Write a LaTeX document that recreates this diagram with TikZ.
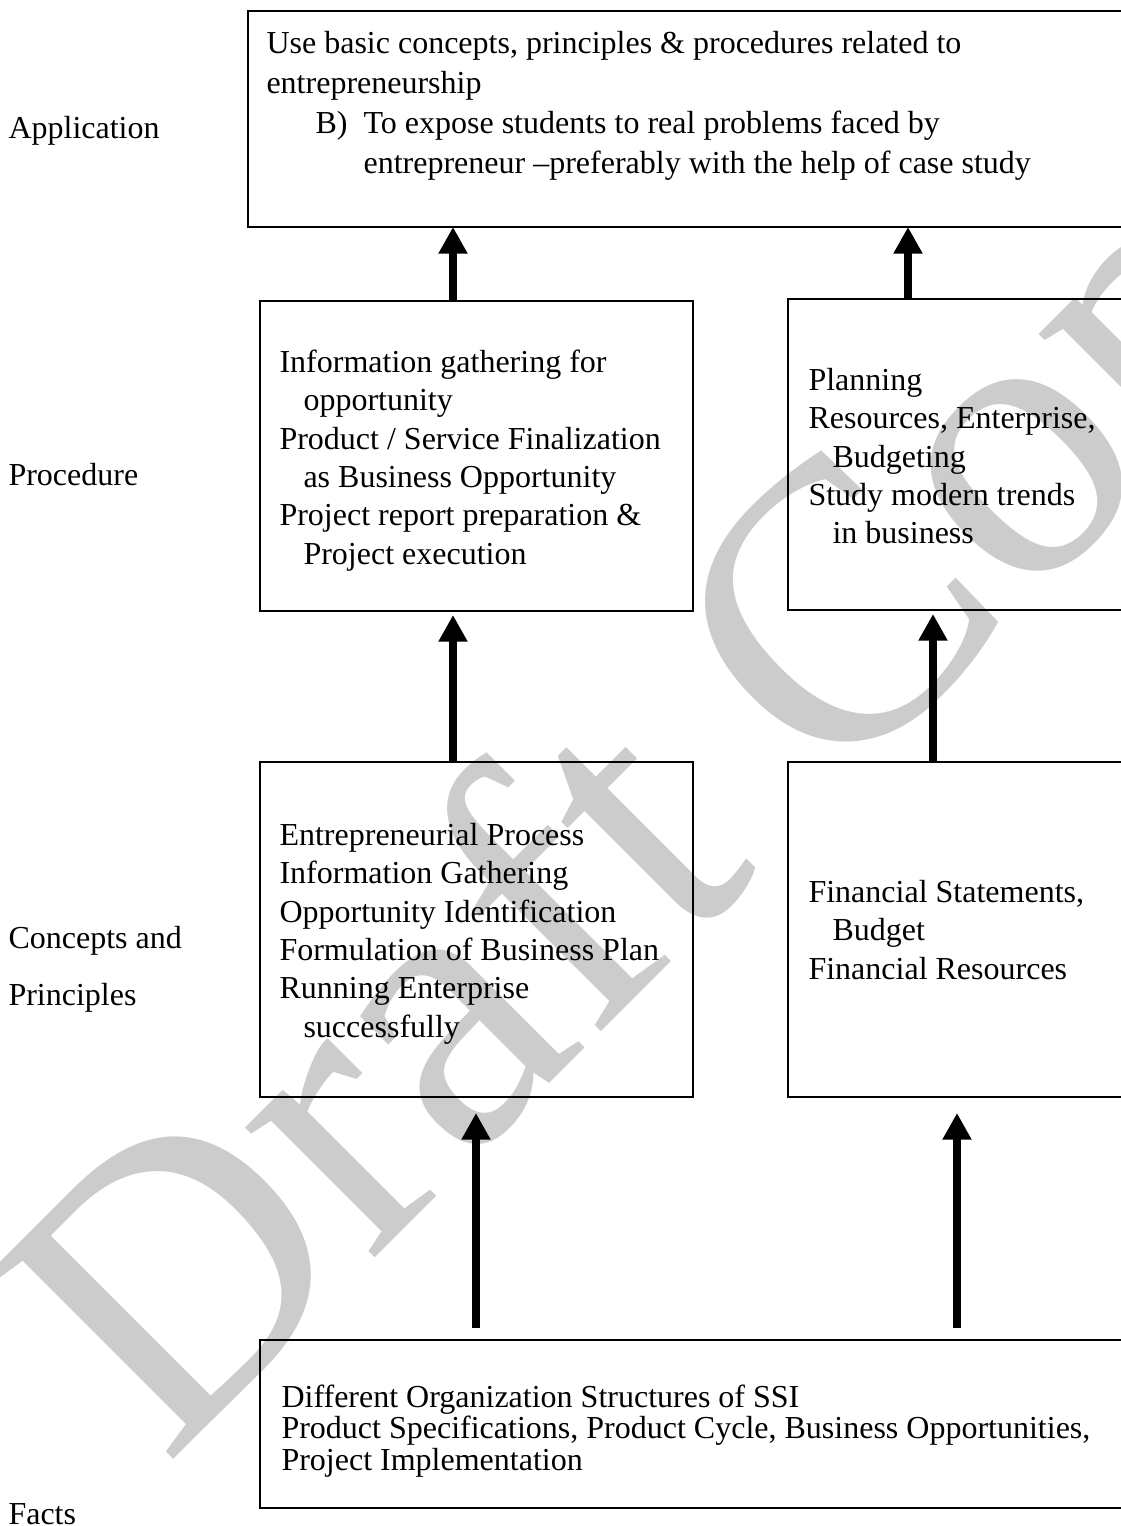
\documentclass[tikz,border=0pt]{standalone}
\usepackage{fontspec}
\setmainfont{Liberation Serif}
\usetikzlibrary{arrows.meta,fit}
\definecolor{wmgray}{RGB}{204,204,204}
\begin{document}
\begin{tikzpicture}[x=0.375pt,y=-0.375pt,
  box/.style={draw, line width=0.8pt, inner sep=0pt, outer sep=0pt},
  txt/.style={anchor=north west, inner sep=0pt, align=left,
              font=\fontsize{12pt}{14.36pt}\selectfont},
  txtt/.style={txt, font=\fontsize{12pt}{15pt}\selectfont},
  txtb/.style={txt, font=\fontsize{12pt}{11.9pt}\selectfont},
  lbl/.style={anchor=base west, inner sep=0pt,
              font=\fontsize{12pt}{14.36pt}\selectfont},
  up/.style={line width=3.3pt, -{Triangle[length=10pt,width=10.3pt]}},
  wm/.style={text=wmgray, inner sep=0pt, anchor=base west,
             font=\fontsize{150pt}{150pt}\selectfont}]

\useasboundingbox (0,0) rectangle (1121,1526);

% watermark behind everything
\node[wm, rotate=45] (wmark) at (165,1468) {Draft Copy};

% boxes
\node[box, fit={(248,11) (1140,227)}] (top) {};
\node[box, fit={(260,301) (693,611)}] (pl) {};
\node[box, fit={(788,299) (1140,610)}] (pr) {};
\node[box, fit={(260,762) (693,1097)}] (cl) {};
\node[box, fit={(788,762) (1140,1097)}] (cr) {};
\node[box, fit={(260,1340) (1140,1508)}] (bot) {};

% box texts
\node[txtt] (ttop) at (266,25) {\strut Use basic concepts, principles \& procedures related to\\
entrepreneurship\\
\hspace*{18.4pt}\makebox[18pt][l]{B)}To expose students to real problems faced by\\
\hspace*{36.4pt}entrepreneur –preferably with the help of case study};

\node[txt] (tpl) at (279,345.2) {\strut Information gathering for\\
\hspace*{9pt}opportunity\\
Product / Service Finalization\\
\hspace*{9pt}as Business Opportunity\\
Project report preparation \&\\
\hspace*{9pt}Project execution};

\node[txt] (tpr) at (808,363.2) {\strut Planning\\
Resources, Enterprise,\\
\hspace*{9pt}Budgeting\\
Study modern trends\\
\hspace*{9pt}in business};

\node[txt] (tcl) at (279,818.2) {\strut Entrepreneurial Process\\
Information Gathering\\
Opportunity Identification\\
Formulation of Business Plan\\
Running Enterprise\\
\hspace*{9pt}successfully};

\node[txt] (tcr) at (808,875.2) {\strut Financial Statements,\\
\hspace*{9pt}Budget\\
Financial Resources};

\node[txtb] (tbot) at (281,1384) {Different Organization Structures of SSI\\
Product Specifications, Product Cycle, Business Opportunities,\\
Project Implementation};

% level labels
\node[lbl] (lapp) at (8,139) {Application};
\node[lbl] (lproc) at (8,485) {Procedure};
\node[lbl] (lcon) at (8,948) {Concepts and};
\node[lbl] (lpri) at (8,1005) {Principles};
\node[lbl] (lfac) at (8,1524) {Facts};

% arrow positions
\coordinate (xa) at (453,0);
\coordinate (xb) at (908,0);
\coordinate (xc) at (933,0);
\coordinate (f1) at (476,1328);
\coordinate (f2) at (957,1328);

% connectors
\draw[up] (pl.north -| xa) -- (top.south -| xa);
\draw[up] (pr.north -| xb) -- (top.south -| xb);
\draw[up, shorten >=1.5pt] (cl.north -| xa) -- (pl.south -| xa);
\draw[up, shorten >=1.5pt] (cr.north -| xc) -- (pr.south -| xc);
\draw[up, shorten >=6pt] (f1) -- (cl.south -| f1);
\draw[up, shorten >=6pt] (f2) -- (cr.south -| f2);
\end{tikzpicture}
\end{document}
